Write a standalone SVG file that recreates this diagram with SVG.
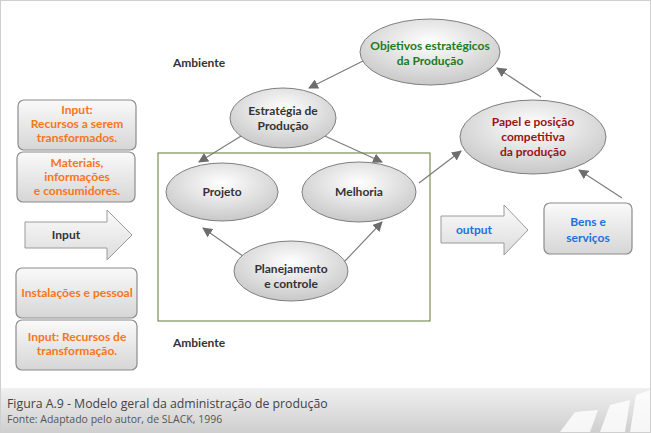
<svg xmlns="http://www.w3.org/2000/svg" width="651" height="433" viewBox="0 0 651 433">
<defs>
<radialGradient id="eg" cx="0.5" cy="0.35" r="0.65"><stop offset="0" stop-color="#ffffff"/><stop offset="1" stop-color="#c8c8c8"/></radialGradient>
<linearGradient id="bg" x1="0" y1="0" x2="0" y2="1"><stop offset="0" stop-color="#fafafa"/><stop offset="1" stop-color="#d6d6d6"/></linearGradient>
<linearGradient id="ag" x1="0" y1="0" x2="0" y2="1"><stop offset="0" stop-color="#fbfbfb"/><stop offset="1" stop-color="#dcdcdc"/></linearGradient>
<linearGradient id="cg" x1="0" y1="0" x2="0" y2="1"><stop offset="0" stop-color="#f0f0f0"/><stop offset="1" stop-color="#cfcfcf"/></linearGradient>
<marker id="ah" viewBox="0 0 10 10" refX="9" refY="5" markerWidth="10" markerHeight="10" markerUnits="userSpaceOnUse" orient="auto"><path d="M0,0 L10,5 L0,10 z" fill="#6d6d6d"/></marker>
</defs>
<style>
text{font-family:Lato,"Open Sans","Liberation Sans",sans-serif;font-weight:bold;font-size:12px;text-anchor:middle}
.el{fill:url(#eg);stroke:#7f7f7f;stroke-width:1}
.bx{fill:url(#bg);stroke:#8c8c8c;stroke-width:1.2}
.ar{fill:url(#ag);stroke:#9a9a9a;stroke-width:1}
.or{fill:#f7751d}.dk{fill:#333}.bl{fill:#1e6fe0}.gr{fill:#217a21}.rd{fill:#9b1414}
.cn line{stroke:#7a7a7a;stroke-width:1.1;marker-end:url(#ah)}
</style>
<rect x="0.5" y="0.5" width="650" height="432" fill="#fff" stroke="#cfcfcf"/>
<g id="caption">
<rect x="1" y="388" width="649" height="44" fill="url(#cg)"/>
<path d="M560,432 L575,412 L598,410 L590,432 Z M600,432 L610,405 L630,400 L625,432 Z M630,432 L636,395 L650,390 L650,432 Z" fill="#fff" opacity="0.8"/>
<text x="7" y="408" style="font-weight:normal;font-size:12.3px;text-anchor:start;fill:#444;font-family:'Open Sans',sans-serif">Figura A.9 - Modelo geral da administração de produção</text>
<text x="7" y="423" style="font-weight:normal;font-size:10.5px;text-anchor:start;fill:#555;font-family:'Open Sans',sans-serif">Fonte: Adaptado pelo autor, de SLACK, 1996</text>
</g>
<g id="ambiente"><text x="199" y="67" class="dk">Ambiente</text><text x="199" y="347" class="dk">Ambiente</text></g>
<rect id="ambiente-box" x="158" y="153" width="272" height="168" fill="none" stroke="#5f7a35" stroke-width="1"/>
<g class="cn">
<line x1="363" y1="61" x2="309" y2="88"/>
<line x1="246" y1="133" x2="199" y2="162"/>
<line x1="316" y1="132" x2="382" y2="162"/>
<line x1="419" y1="183" x2="461" y2="151"/>
<line x1="541" y1="97" x2="497" y2="68"/>
<line x1="622" y1="198" x2="579" y2="170"/>
<line x1="250" y1="261" x2="203" y2="228"/>
<line x1="345" y1="261" x2="382" y2="222"/>
</g>
<g id="n1"><rect class="bx" x="18" y="100" width="118" height="50" rx="6"/><text x="77" y="114" class="or">Input:</text><text x="77" y="128" class="or">Recursos a serem</text><text x="77" y="142" class="or">transformados.</text></g>
<g id="n2"><rect class="bx" x="17" y="152" width="118" height="50" rx="6"/><text x="77" y="167" class="or">Materiais,</text><text x="77" y="181" class="or">informações</text><text x="77" y="195" class="or">e consumidores.</text></g>
<g id="input"><path class="ar" d="M25,222 H107 V210 L132,235 L107,260 V248 H25 Z"/><text x="66" y="239" class="dk">Input</text></g>
<g id="n3"><rect class="bx" x="16" y="268" width="121" height="50" rx="6"/><text x="77" y="297" class="or">Instalações e pessoal</text></g>
<g id="n4"><rect class="bx" x="16" y="320" width="121" height="50" rx="6"/><text x="77" y="341" class="or">Input: Recursos de</text><text x="77" y="355" class="or">transformação.</text></g>
<g id="objetivos"><ellipse class="el" cx="430" cy="52" rx="70" ry="33"/><text x="430" y="50" class="gr">Objetivos estratégicos</text><text x="430" y="65" class="gr">da Produção</text></g>
<g id="estrategia"><ellipse class="el" cx="283" cy="118" rx="53" ry="30"/><text x="283" y="115" class="dk">Estratégia de</text><text x="283" y="130" class="dk">Produção</text></g>
<g id="projeto"><ellipse class="el" cx="222" cy="192" rx="56" ry="29"/><text x="222" y="196" class="dk">Projeto</text></g>
<g id="melhoria"><ellipse class="el" cx="359" cy="192" rx="57" ry="30"/><text x="359" y="196" class="dk">Melhoria</text></g>
<g id="planejamento"><ellipse class="el" cx="291" cy="271" rx="57" ry="30"/><text x="291" y="273" class="dk">Planejamento</text><text x="291" y="288" class="dk">e controle</text></g>
<g id="papel"><ellipse class="el" cx="533" cy="137" rx="73" ry="37"/><text x="533" y="126" class="rd">Papel e posição</text><text x="533" y="141" class="rd">competitiva</text><text x="533" y="156" class="rd">da produção</text></g>
<g id="output"><path class="ar" d="M441,216 H504 V205 L528,230 L504,255 V243 H441 Z"/><text x="474" y="234" class="bl">output</text></g>
<g id="bens"><rect class="bx" x="544" y="203" width="88" height="51" rx="6"/><text x="588" y="226" class="bl">Bens e</text><text x="588" y="242" class="bl">serviços</text></g>
</svg>
